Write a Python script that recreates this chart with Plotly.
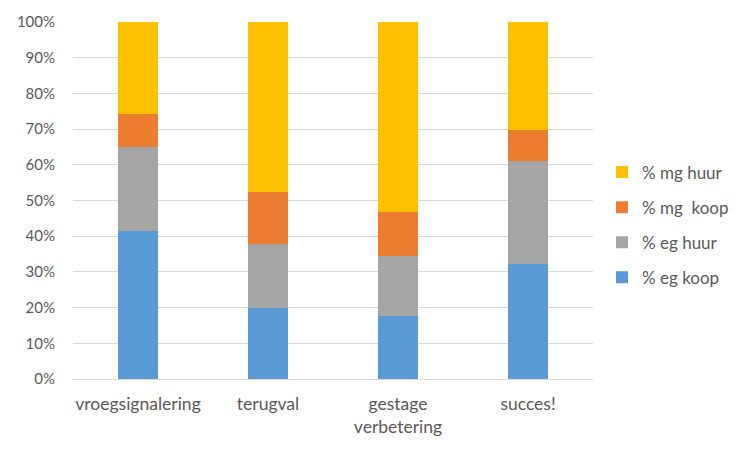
import plotly.graph_objects as go

categories = ["vroegsignalering", "terugval", "gestage<br>verbetering", "succes!"]
eg_koop = [41.5, 20.0, 17.6, 32.2]
eg_huur = [23.6, 17.8, 16.8, 29.0]
mg_koop = [9.2, 14.6, 12.4, 8.6]
mg_huur = [25.7, 47.6, 53.2, 30.2]

series = [
    ("% eg koop", eg_koop, "#5b9bd5"),
    ("% eg huur", eg_huur, "#a5a5a5"),
    ("% mg  koop", mg_koop, "#ed7d31"),
    ("% mg huur", mg_huur, "#ffc000"),
]

fig = go.Figure()
for i, (name, vals, color) in enumerate(series):
    fig.add_trace(go.Bar(
        x=categories, y=vals, name=name, marker_color=color,
        marker_line_width=0, width=0.31, legendgroup=str(i),
        legendrank=1000 - i,
    ))

# page body has an 8px default margin; compensate so plot lands in place
off = 8
font_family = "Lato, Open Sans, sans-serif"
fig.update_layout(
    barmode="stack",
    width=750, height=450,
    margin=dict(l=73 - off, r=157 + off, t=22 - off, b=71 + off, autoexpand=False),
    plot_bgcolor="white", paper_bgcolor="white",
    font=dict(family=font_family, size=15, color="#595959"),
    showlegend=True,
    legend=dict(
        traceorder="grouped",
        xref="container", yref="container",
        x=(602 - off) / 750, xanchor="left", y=1 - (225 - off) / 450, yanchor="middle",
        tracegroupgap=10, font=dict(size=17, color="#595959"),
        itemwidth=30,
    ),
)
fig.update_yaxes(
    range=[0, 100], dtick=10, ticksuffix="%",
    showgrid=True, gridcolor="#d9d9d9", gridwidth=1.3,
    zeroline=False, showline=False, ticklabelstandoff=17,
    tickfont=dict(size=15, color="#595959"), automargin=False,
)
fig.update_xaxes(
    showline=True, linecolor="#d9d9d9", linewidth=1.3,
    tickfont=dict(size=17.5, color="#595959"), ticks="",
    ticklabelstandoff=9, automargin=False,
)

fig.write_html("out.html")
